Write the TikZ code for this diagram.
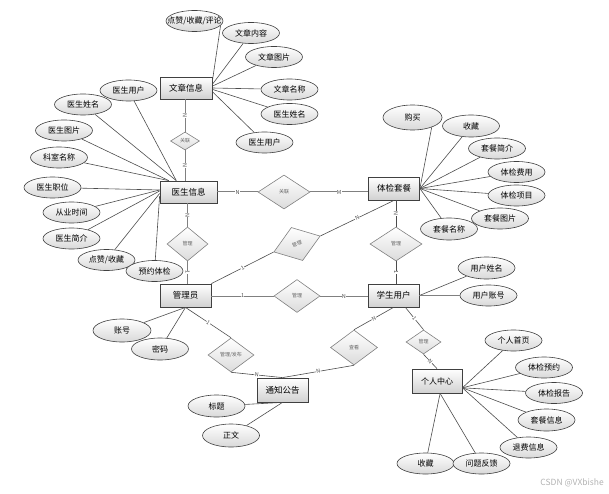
\documentclass[tikz,border=0pt]{standalone}
\usepackage{fontspec}
\setmainfont{Noto Sans CJK SC}
\usetikzlibrary{shapes.geometric}
\newcommand{\zt}[1]{\makebox[0pt]{#1}}
\begin{document}
\begin{tikzpicture}[x=1pt,y=-1pt,
  ent/.style={draw=black!75, line width=0.8pt, top color=white, bottom color=black!18,
    minimum width=51pt, minimum height=23pt, inner sep=0pt, font=\fontsize{8.5}{10}\selectfont},
  attr/.style={ellipse, draw=black!75, line width=0.6pt, top color=white, bottom color=black!15,
    minimum width=57pt, minimum height=21pt, inner sep=0pt, font=\fontsize{8}{9}\selectfont},
  rel/.style={diamond, draw=black!50, line width=0.6pt, top color=white, bottom color=black!14,
    inner sep=0pt, text=black!60, font=\fontsize{5}{6}\selectfont},
  lab/.style={fill=white, inner sep=0.4pt, text=black!70, font=\fontsize{5.5}{6}\selectfont},
  aline/.style={draw=black!70, line width=0.6pt},
  rline/.style={draw=black!50, line width=1pt},
  dline/.style={draw=black!70, line width=0.6pt}]
\useasboundingbox (0,0) rectangle (609,494);

% entities
\node[ent, minimum width=52pt, minimum height=22pt] (wz) at (186,88) {文章信息};
\node[ent, minimum width=57pt, minimum height=22pt] (ys) at (188.5,192) {医生信息};
\node[ent] (tc) at (394,188.5) {体检套餐};
\node[ent] (gly) at (185.5,295.5) {管理员};
\node[ent] (xs) at (393.5,295.5) {学生用户};
\node[ent, minimum height=24pt] (tz) at (282.5,390) {通知公告};
\node[ent, minimum width=50pt, minimum height=24pt, font=\fontsize{8}{9}\selectfont] (gr) at (437,381) {个人中心};

% relationships
\node[rel, minimum width=29pt, minimum height=18pt] (r1) at (185,141) {关联};
\node[rel, minimum width=52pt, minimum height=34pt] (r2) at (284,192) {关联};
\node[rel, minimum width=41pt, minimum height=34pt] (r3) at (187.5,244) {管理};
\node[rel, minimum width=49pt, minimum height=35pt, rotate=19] (r4) at (297,244) {管理};
\node[rel, minimum width=46pt, minimum height=33pt] (r5) at (297,296) {管理};
\node[rel, minimum width=52pt, minimum height=34pt] (r6) at (396,244) {管理};
\node[rel, minimum width=46pt, minimum height=34pt] (r7) at (231,355) {管理/发布};
\node[rel, minimum width=47pt, minimum height=35pt] (r8) at (354,347.5) {查看};
\node[rel, minimum width=35pt, minimum height=24pt] (r9) at (423.5,342) {管理};

% attributes of 文章信息
\node[attr] (a1) at (194.5,21) {\zt{点赞/收藏/评论}};
\node[attr] (a2) at (251,33) {\zt{文章内容}};
\node[attr] (a3) at (274,57) {\zt{文章图片}};
\node[attr] (a4) at (289.5,89.5) {\zt{文章名称}};
\node[attr] (a5) at (289.5,114) {\zt{医生姓名}};
\node[attr] (a6) at (264.5,142.5) {\zt{医生用户}};
% attributes of 医生信息
\node[attr] (b1) at (128.5,90.5) {\zt{医生用户}};
\node[attr] (b2) at (83,104.5) {\zt{医生姓名}};
\node[attr] (b3) at (64,130.5) {\zt{医生图片}};
\node[attr] (b4) at (59,157.5) {\zt{科室名称}};
\node[attr] (b5) at (52.5,187.5) {\zt{医生职位}};
\node[attr] (b6) at (71.5,212.5) {\zt{从业时间}};
\node[attr] (b7) at (71.5,238.5) {\zt{医生简介}};
\node[attr] (b8) at (106.5,260) {\zt{点赞/收藏}};
\node[attr] (b9) at (154.5,271) {\zt{预约体检}};
% attributes of 体检套餐
\node[attr, minimum width=59pt, minimum height=25pt] (c1) at (412.5,117.5) {\zt{购买}};
\node[attr, minimum height=22pt] (c2) at (471,126) {\zt{收藏}};
\node[attr] (c3) at (497,148.5) {\zt{套餐简介}};
\node[attr] (c4) at (516.5,172) {\zt{体检费用}};
\node[attr] (c5) at (516.5,195.5) {\zt{体检项目}};
\node[attr] (c6) at (500,218.5) {\zt{套餐图片}};
\node[attr, minimum height=22pt] (c7) at (449,229) {\zt{套餐名称}};
% attributes of 学生用户
\node[attr, minimum height=22pt] (d1) at (486.5,268) {\zt{用户姓名}};
\node[attr] (d2) at (488.5,295.5) {\zt{用户账号}};
% attributes of 个人中心
\node[attr] (e1) at (513.5,340.5) {\zt{个人首页}};
\node[attr] (e2) at (544,367.5) {\zt{体检预约}};
\node[attr] (e3) at (554,393) {\zt{体检报告}};
\node[attr, minimum height=22pt] (e4) at (546.5,420) {\zt{套餐信息}};
\node[attr] (e5) at (528.5,447.5) {\zt{退费信息}};
\node[attr] (e6) at (425.5,463.5) {\zt{收藏}};
\node[attr] (e7) at (481.5,463.5) {\zt{问题反馈}};
% attributes of 管理员
\node[attr, minimum width=58pt, minimum height=23pt] (f1) at (122,330.5) {\zt{账号}};
\node[attr, minimum height=22pt] (f2) at (160,349) {\zt{密码}};
% attributes of 通知公告
\node[attr, minimum height=22pt] (g1) at (216.5,406) {\zt{标题}};
\node[attr, minimum height=23pt] (g2) at (231,435.5) {\zt{正文}};

% attribute connectors
\draw[aline] (a1.-10) -- (wz.15);
\foreach \a/\t in {a2/8, a3/4, a4/0, a5/-3, a6/-8} \draw[aline] (\a) -- (wz.\t);
\foreach \b/\t in {b1/137, b2/137, b3/150, b4/150, b5/176, b6/176, b7/178, b8/183, b9/188} \draw[aline] (\b) -- (ys.\t);
\draw[aline] (c1.-27) -- (tc.east);
\foreach \c in {c2,c3,c4,c5,c6,c7} \draw[aline] (\c) -- (tc.east);
\draw[aline] (d1) -- (xs.east);
\draw[rline, line width=1.3pt] (d2) -- (xs.east);
\foreach \e in {e1,e2,e3,e4,e5} \draw[aline] (\e) -- (gr.-15);
\foreach \e in {e6,e7} \draw[aline] (\e) -- (gr.-76);
\foreach \f in {f1,f2} \draw[aline] (\f) -- (gly.south);
\foreach \g in {g1,g2} \draw[aline] (\g) -- (tz.south);

% relationship connectors
\draw[rline] (wz.south -| r1.north) -- node[lab, sloped]{N} (r1.north);
\draw[rline] (r1.south) -- node[lab, sloped]{N} (r1.south |- ys.north);
\draw[rline] (ys.east |- r2.west) -- node[lab]{N} (r2.west);
\draw[rline] (r2.east) -- node[lab]{M} (tc.west |- r2.east);
\draw[rline] (ys.south -| r3.north) -- node[lab, sloped]{N} (r3.north);
\draw[rline] (r3.south) -- node[lab, sloped]{1} (r3.south |- gly.north);
\draw[dline] (gly.north east) -- node[lab, sloped]{1} (r4.west);
\draw[dline] (r4.east) -- node[lab, sloped]{N} (tc.south);
\draw[rline] (gly.east |- r5.west) -- node[lab]{1} (r5.west);
\draw[rline] (r5.east) -- node[lab]{N} (xs.west |- r5.east);
\draw[dline] (tc.south -| r6.north) -- node[lab, sloped]{N} (r6.north);
\draw[dline] (r6.south) -- node[lab, sloped]{1} (r6.south |- xs.north);
\draw[dline] (gly.south) -- node[lab, sloped]{1} (r7.north);
\draw[dline] (r7.south) -- node[lab, sloped]{N} (tz.north);
\draw[dline] (xs.south) -- node[lab, sloped]{N} (r8.north);
\draw[dline] (r8.south) -- node[lab, sloped]{N} (tz.north);
\draw[dline] (xs.-45) -- node[lab, sloped]{1} (r9.north);
\draw[dline] (r9.south) -- node[lab, sloped]{N} (gr.north);

% watermark
\node[anchor=east, text=black!30, font=\fontsize{8.5}{10}\selectfont, inner sep=0pt] (wm) at (604,483) {CSDN @VXbishe};
\end{tikzpicture}
\end{document}
